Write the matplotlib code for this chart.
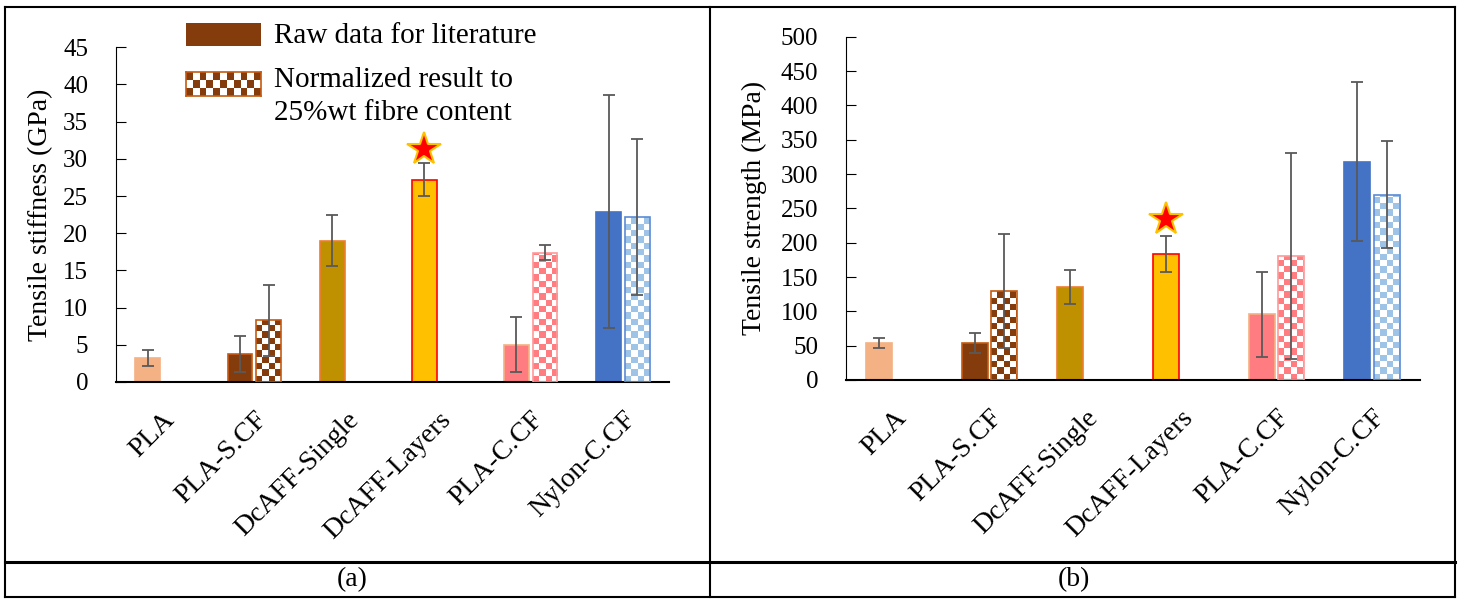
import numpy as np
import matplotlib
matplotlib.use('Agg')
import matplotlib.pyplot as plt
import matplotlib.colors as mcolors
from matplotlib.lines import Line2D
from matplotlib.patches import Rectangle

plt.rcParams['font.family'] = ['Liberation Serif', 'DejaVu Serif']

categories = ['PLA', 'PLA-S.CF', 'DcAFF-Single', 'DcAFF-Layers', 'PLA-C.CF', 'Nylon-C.CF']

stiff_raw = [3.2, 3.8, 19.0, 27.2, 5.0, 22.9]
stiff_raw_err = [1.1, 2.4, 3.4, 2.2, 3.7, 15.7]
stiff_norm = [np.nan, 8.3, np.nan, np.nan, 17.4, 22.2]
stiff_norm_err = [np.nan, 4.8, np.nan, np.nan, 1.0, 10.5]
stiff_star = 31.3

strength_raw = [54, 54, 135, 184, 96, 318]
strength_raw_err = [7.5, 14.6, 25, 26, 62, 116]
strength_norm = [np.nan, 129, np.nan, np.nan, 181, 270]
strength_norm_err = [np.nan, 83, np.nan, np.nan, 150, 78]
strength_star = 234

raw_colors = ['#F4B183', '#843C0C', '#BF9000', '#FFC000', '#FF7C80', '#4472C4']
raw_edges = ['#F4B183', '#C55A11', '#ED7D31', '#FF0000', '#F4B183', '#4472C4']
norm_colors = [None, '#843C0C', None, None, '#FF7C80', '#9DC3E6']
norm_edges = [None, '#C55A11', None, None, '#FF9999', '#5B8BD5']

W, H = 1458, 599
fig = plt.figure(figsize=(W / 100, H / 100), dpi=100)


def px_box(x0, x1, ytop, ybot):
    return [x0 / W, 1 - ybot / H, (x1 - x0) / W, (ybot - ytop) / H]


def checker_img(ny, nx, color):
    ii, jj = np.indices((ny, nx))
    c = np.array(mcolors.to_rgb(color))
    return np.where(((ii + jj) % 2 == 0)[..., None], c, np.ones(3))


def checker_bar(ax, x, h, w, color, edge, px_x, px_y, cell=6.3):
    bar = ax.bar(x, h, w, color='white', edgecolor='none', zorder=2)[0]
    cw, ch = cell / px_x, cell / px_y
    nx, ny = int(np.ceil(w / cw)), int(np.ceil(h / ch))
    im = ax.imshow(checker_img(ny, nx, color),
                   extent=(x - w / 2, x - w / 2 + nx * cw, 0, ny * ch),
                   origin='lower', aspect='auto', interpolation='nearest', zorder=2.5)
    im.set_clip_path(bar)
    ax.bar(x, h, w, color='none', edgecolor=edge, linewidth=1.2, zorder=3)


def panel(box, raw, raw_err, norm, norm_err, star, ymax, ystep, ylabel, lab_x):
    ax = fig.add_axes(px_box(*box))
    x = np.arange(len(categories))
    off, w = 0.155, 0.27
    ax.bar(x - off, raw, w, color=raw_colors, edgecolor=raw_edges, linewidth=1.2, zorder=2)
    ax.errorbar(x - off, raw, yerr=raw_err, fmt='none', ecolor='#595959',
                elinewidth=1.3, capsize=4, capthick=1.3, zorder=4)
    px_x = (box[1] - box[0]) / len(categories)
    px_y = (box[3] - box[2]) / ymax
    idx = [i for i in range(len(categories)) if not np.isnan(norm[i])]
    for i in idx:
        checker_bar(ax, x[i] + off, norm[i], w, norm_colors[i], norm_edges[i], px_x, px_y)
    ax.errorbar(x[idx] + off, [norm[i] for i in idx], yerr=[norm_err[i] for i in idx],
                fmt='none', ecolor='#595959', elinewidth=1.3, capsize=4, capthick=1.3, zorder=4)
    ax.plot(x[3] - off, star, marker='*', ms=25, mfc='#FF0000', mec='#FFC000',
            mew=1.5, ls='none', zorder=5)

    ax.set_xlim(-0.5, len(categories) - 0.5)
    ax.set_ylim(0, ymax)
    ax.set_yticks(np.arange(0, ymax + ystep / 2, ystep))
    ax.spines[['top', 'right']].set_visible(False)
    ax.spines['left'].set_color('black')
    ax.spines['bottom'].set_color('black')
    ax.spines['bottom'].set_linewidth(1.5)
    ax.tick_params(axis='y', direction='in', length=7, pad=20, labelsize=18)
    ax.set_xticks(x)
    ax.set_xticklabels(categories, rotation=45, ha='right', va='top',
                       rotation_mode='anchor', fontsize=20)
    ax.tick_params(axis='x', length=0, pad=18)
    ax.set_ylabel(ylabel, fontsize=20)
    ax.yaxis.set_label_coords((lab_x - box[0]) / (box[1] - box[0]), 0.5)
    return ax


panel((116, 669, 47.3, 382), stiff_raw, stiff_raw_err, stiff_norm, stiff_norm_err,
      stiff_star, 45, 5, 'Tensile stiffness (GPa)', 53)
panel((846, 1420, 36.7, 380), strength_raw, strength_raw_err, strength_norm, strength_norm_err,
      strength_star, 500, 50, 'Tensile strength (MPa)', 767)

# legend drawn by hand
fig.add_artist(Rectangle((186 / W, 1 - 46 / H), 75 / W, 23 / H, transform=fig.transFigure,
                         facecolor='#843C0C', edgecolor='none'))
lax = fig.add_axes(px_box(186, 261, 72, 96))
lax.imshow(checker_img(3, 11, '#843C0C'), aspect='auto', interpolation='nearest')
lax.set_xticks([])
lax.set_yticks([])
for s in lax.spines.values():
    s.set_color('#C55A11')
    s.set_linewidth(1.2)
fig.text(274 / W, 1 - 36 / H, 'Raw data for literature', fontsize=21, va='center')
fig.text(274 / W, 1 - 80 / H, 'Normalized result to', fontsize=21, va='center')
fig.text(274 / W, 1 - 113 / H, '25%wt fibre content', fontsize=21, va='center')

# table frame and captions
def hline(y, x0, x1, lw):
    fig.add_artist(Line2D([x0 / W, x1 / W], [1 - y / H, 1 - y / H], color='black', lw=lw,
                          transform=fig.transFigure))


def vline(x, y0, y1, lw):
    fig.add_artist(Line2D([x / W, x / W], [1 - y0 / H, 1 - y1 / H], color='black', lw=lw,
                          transform=fig.transFigure))


hline(7, 5, 1455, 1.5)
hline(597, 5, 1455, 1.5)
hline(562, 5, 1455, 2.2)
vline(5, 7, 597, 1.5)
vline(1455, 7, 597, 1.5)
vline(710, 7, 597, 1.5)
fig.text(352 / W, 1 - 580 / H, '(a)', fontsize=20, ha='center', va='center')
fig.text(1074 / W, 1 - 580 / H, '(b)', fontsize=20, ha='center', va='center')

fig.savefig('out.png', dpi=100)
